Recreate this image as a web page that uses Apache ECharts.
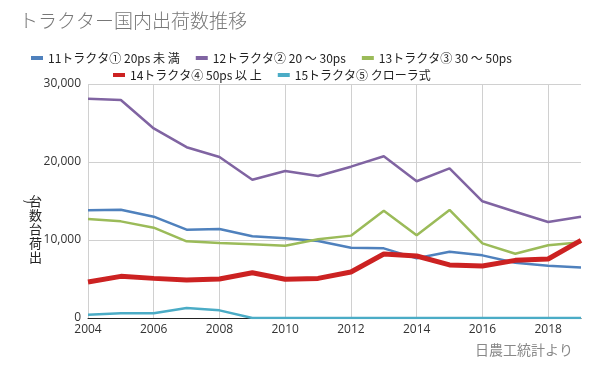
<!DOCTYPE html>
<html><head><meta charset="utf-8">
<script src="https://cdn.jsdelivr.net/npm/echarts@6/dist/echarts.min.js"></script>
<style>html,body{margin:0;padding:0;background:#fff}#c{width:600px;height:371px}</style>
</head><body><div id="c"></div>
<script>
const years = ['2004','2005','2006','2007','2008','2009','2010','2011','2012','2013','2014','2015','2016','2017','2018','2019'];
const seriesNames = ['11トラクタ① 20ps 未 満','12トラクタ② 20 ～ 30ps','13トラクタ③ 30 ～ 50ps','14トラクタ④ 50ps 以 上','15トラクタ⑤ クローラ式'];
const s11 = [13800,13890,12990,11320,11410,10470,10210,9870,9010,8930,7650,8500,8030,7090,6710,6490];
const s12 = [28100,27950,24300,21900,20640,17720,18850,18200,19400,20730,17530,19190,14960,13630,12310,12990];
const s13 = [12690,12390,11580,9830,9620,9440,9270,10090,10560,13760,10600,13850,9570,8240,9320,9700];
const s14 = [4620,5340,5080,4870,5000,5810,4960,5080,5900,8210,7950,6800,6670,7390,7560,9960];
const s15 = [430,600,600,1280,980,0,0,0,0,0,0,0,0,0,0,0];
const yTicks = [0,10000,20000,30000];

const colors = ['#4F81BD','#8064A2','#9BBB59','#CC2222','#4BACC6'];
const widths = [2.5,2.5,2.5,5,2.5];
const dataSets = [s11,s12,s13,s14,s15];
const font = '"Noto Sans CJK JP","Noto Sans",sans-serif';

const chart = echarts.init(document.getElementById('c'));
chart.setOption({
  animation:false,
  textStyle:{fontFamily:font},
  title:{text:'トラクター国内出荷数推移',left:14,top:6,textStyle:{fontSize:19,fontWeight:300,color:'#777',fontFamily:font}},
  legend:[
    {data:seriesNames.slice(0,3),left:26,top:47,itemWidth:12,itemHeight:4,icon:'rect',itemGap:16,
     textStyle:{fontSize:12,color:'#222',fontFamily:font}},
    {data:seriesNames.slice(3),left:108,top:64,itemWidth:12,itemHeight:4,icon:'rect',itemGap:16,
     textStyle:{fontSize:12,color:'#222',fontFamily:font}}
  ],
  grid:{left:88,right:19,top:84,bottom:53,containLabel:false},
  xAxis:{type:'category',data:years,boundaryGap:false,
    axisLine:{lineStyle:{color:'#222',width:1}},axisTick:{show:false},
    axisLabel:{interval:1,color:'#333',fontSize:12,margin:6,fontFamily:'"Open Sans",sans-serif'},
    splitLine:{show:true,interval:1,lineStyle:{color:'#d0d0d0',width:1}}},
  yAxis:{type:'value',min:yTicks[0],max:yTicks[yTicks.length-1],interval:10000,
    axisLine:{show:false},axisTick:{show:false},
    axisLabel:{color:'#333',fontSize:12,margin:7,fontFamily:'"Open Sans",sans-serif',
      formatter:v=>v.toLocaleString('en-US')},
    splitLine:{lineStyle:{color:'#d0d0d0',width:1}}},
  graphic:[
    {type:'text',left:29,top:194,style:{text:'台\n数\n台\n荷\n出',font:'13px '+font,fill:'#222',lineHeight:14}},
    {type:'text',left:22,top:197,rotation:Math.PI/2,style:{text:'( ',font:'12px '+font,fill:'#222'}},
    {type:'text',right:27,top:343,style:{text:'日農工統計より',font:'14px '+font,fill:'#888'}}
  ],
  series:dataSets.map((d,i)=>({name:seriesNames[i],type:'line',data:d,symbol:'none',
    lineStyle:{color:colors[i],width:widths[i]},itemStyle:{color:colors[i]},z:i===3?5:2}))
});
</script></body></html>
